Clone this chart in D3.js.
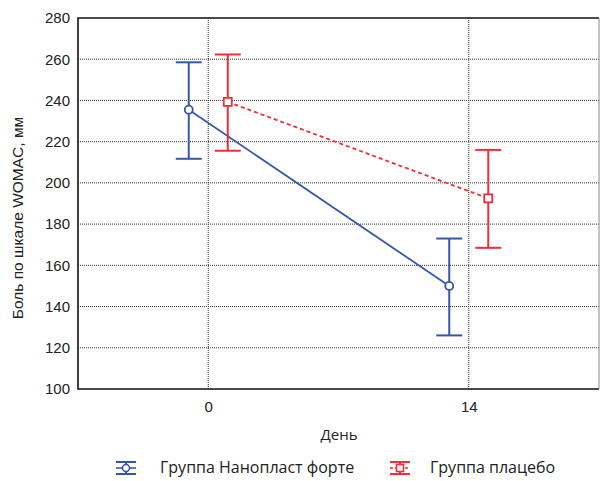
<!DOCTYPE html>
<html lang="ru">
<head>
  <meta charset="UTF-8">
  <title>WOMAC</title>
  <script src="https://d3js.org/d3.v7.min.js"></script>
  <style>
    html, body { margin: 0; padding: 0; background: #fff; }
    text { font-family: "Liberation Sans", Arial, sans-serif; fill: #222; }
    .lbl { font-family: "Open Sans", sans-serif; }
    .grid line { stroke: #333; stroke-width: 1; stroke-dasharray: 1,1; }
  </style>
</head>
<body>
  <div id="container"></div>
  <script>
    // data
    const days = ['0', '14'];
    const nanoMean = [235.5, 150];
    const nanoLow = [211.7, 126];
    const nanoHigh = [258.5, 173];
    const placeboMean = [239.3, 192.5];
    const placeboLow = [215.6, 168.5];
    const placeboHigh = [262.3, 216];
    const yTicks = [100, 120, 140, 160, 180, 200, 220, 240, 260, 280];
    const seriesNames = ['Группа Нанопласт форте', 'Группа плацебо'];

    const blue = '#3558a6', red = '#ec2f3a';

    const width = 602, height = 481;
    const margin = {top: 18, left: 78, right: 3, bottom: 92};
    const w = width - margin.left - margin.right;
    const h = height - margin.top - margin.bottom;

    const svg = d3.select('#container').append('svg')
      .attr('width', width).attr('height', height);
    const g = svg.append('g').attr('transform', `translate(${margin.left},${margin.top})`);

    const x = d3.scalePoint().domain(days).range([0, w]).padding(0.5);
    const y = d3.scaleLinear().domain([100, 280]).range([h, 0]);
    const off = 19.5;

    // grid
    const grid = g.append('g').attr('class', 'grid');
    grid.selectAll('.hg').data(yTicks.slice(1, -1)).enter().append('line')
      .attr('x1', 0).attr('x2', w).attr('y1', d => y(d)).attr('y2', d => y(d));
    grid.selectAll('.vg').data(days).enter().append('line')
      .attr('x1', d => x(d)).attr('x2', d => x(d)).attr('y1', 0).attr('y2', h);

    // axes
    const yAxis = d3.axisLeft(y).tickValues(yTicks).tickSize(0).tickPadding(8);
    g.append('g').call(yAxis)
      .call(a => a.select('.domain').remove())
      .selectAll('text').style('font-size', '15px');
    const xAxis = d3.axisBottom(x).tickSize(0).tickPadding(12);
    g.append('g').attr('transform', `translate(0,${h})`).call(xAxis)
      .call(a => a.select('.domain').remove())
      .selectAll('text').style('font-size', '15px');

    // frame
    g.append('path')
      .attr('d', `M${w},0H0V${h}H${w}`)
      .attr('fill', 'none').attr('stroke', '#111').attr('stroke-width', 1.6);
    g.append('line').attr('x1', w).attr('x2', w).attr('y1', 0).attr('y2', h)
      .attr('stroke', '#888').attr('stroke-width', 1);

    const series = [
      {name: seriesNames[0], mean: nanoMean, lo: nanoLow, hi: nanoHigh, color: blue, dx: -off, dash: null, shape: 'circle'},
      {name: seriesNames[1], mean: placeboMean, lo: placeboLow, hi: placeboHigh, color: red, dx: off, dash: '4,3', shape: 'square'}
    ];

    const line = d3.line();
    series.forEach(s => {
      const pts = days.map((d, i) => [x(d) + s.dx, y(s.mean[i])]);
      g.append('path').attr('d', line(pts))
        .attr('fill', 'none').attr('stroke', s.color).attr('stroke-width', 1.8)
        .attr('stroke-dasharray', s.dash);
      days.forEach((d, i) => {
        const cx = x(d) + s.dx;
        const eb = g.append('g').attr('stroke', s.color).attr('stroke-width', 2);
        eb.append('line').attr('x1', cx).attr('x2', cx).attr('y1', y(s.hi[i])).attr('y2', y(s.lo[i]));
        eb.append('line').attr('x1', cx - 13).attr('x2', cx + 13).attr('y1', y(s.hi[i])).attr('y2', y(s.hi[i]));
        eb.append('line').attr('x1', cx - 13).attr('x2', cx + 13).attr('y1', y(s.lo[i])).attr('y2', y(s.lo[i]));
        if (s.shape === 'circle') {
          g.append('circle').attr('cx', cx).attr('cy', y(s.mean[i])).attr('r', 4)
            .attr('fill', '#fff').attr('stroke', s.color).attr('stroke-width', 1.8);
        } else {
          g.append('rect').attr('x', cx - 4).attr('y', y(s.mean[i]) - 4).attr('width', 8).attr('height', 8)
            .attr('fill', '#fff').attr('stroke', s.color).attr('stroke-width', 1.8);
        }
      });
    });

    // titles
    svg.append('text').attr('class', 'lbl').attr('x', 339).attr('y', 440).attr('text-anchor', 'middle')
      .style('font-size', '15px').text('День');
    svg.append('text').attr('transform', 'translate(23,218) rotate(-90)').attr('text-anchor', 'middle')
      .style('font-size', '15.5px').text('Боль по шкале WOMAC, мм');

    // legend
    const legX = [126, 400], legTextX = [160, 430], legY = 468;
    series.forEach((s, i) => {
      const lg = svg.append('g').attr('stroke', s.color).attr('stroke-width', 2);
      const cx = legX[i];
      lg.append('line').attr('x1', cx - 10).attr('x2', cx + 10).attr('y1', legY - 6).attr('y2', legY - 6);
      lg.append('line').attr('x1', cx - 10).attr('x2', cx + 10).attr('y1', legY + 6).attr('y2', legY + 6);
      lg.append('line').attr('x1', cx - 10).attr('x2', cx + 10).attr('y1', legY).attr('y2', legY)
        .attr('stroke-dasharray', s.dash ? '3,2' : null).attr('stroke-width', 1.6);
      lg.append('line').attr('x1', cx).attr('x2', cx).attr('y1', legY - 6).attr('y2', legY + 6);
      if (s.shape === 'circle') {
        lg.append('circle').attr('cx', cx).attr('cy', legY).attr('r', 3.5).attr('fill', '#fff').attr('stroke-width', 1.6);
      } else {
        lg.append('rect').attr('x', cx - 3.5).attr('y', legY - 3.5).attr('width', 7).attr('height', 7)
          .attr('fill', '#fff').attr('stroke-width', 1.6);
      }
      svg.append('text').attr('class', 'lbl').attr('x', legTextX[i]).attr('y', legY + 5)
        .style('font-size', '16px').text(s.name);
    });
  </script>
</body>
</html>
